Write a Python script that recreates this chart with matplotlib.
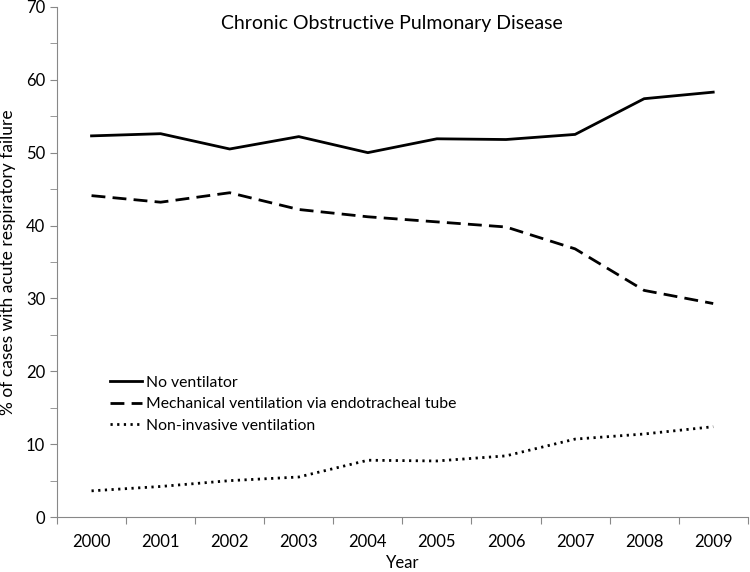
import numpy as np
import matplotlib.pyplot as plt
from matplotlib.ticker import MultipleLocator, FixedLocator, NullFormatter

plt.rcParams['font.family'] = ['Lato', 'DejaVu Sans']

years = ['2000', '2001', '2002', '2003', '2004', '2005', '2006', '2007', '2008', '2009']
no_vent = [52.3, 52.6, 50.5, 52.2, 50.0, 51.9, 51.8, 52.5, 57.4, 58.3]
mech_vent = [44.1, 43.2, 44.5, 42.2, 41.2, 40.5, 39.8, 36.8, 31.1, 29.3]
non_inv = [3.6, 4.2, 5.0, 5.5, 7.8, 7.7, 8.4, 10.7, 11.4, 12.4]

x = np.arange(len(years))

fig = plt.figure(figsize=(7.5, 5.72), dpi=100)
ax = fig.add_axes([0.076, 0.096, 0.921, 0.892])

ax.plot(x, no_vent, color='black', lw=2.0, label='No ventilator')
ax.plot(x, mech_vent, color='black', lw=2.0, dashes=(5, 2.6), label='Mechanical ventilation via endotracheal tube')
ax.plot(x, non_inv, color='black', lw=2.0, dashes=(0.8, 1.6), label='Non-invasive ventilation')

ax.set_xlim(-0.5, len(years) - 0.5)
ax.set_ylim(0, 70)

# category axis: tick marks between categories, labels at centres
ax.xaxis.set_major_locator(FixedLocator(np.arange(len(years) + 1) - 0.5))
ax.xaxis.set_major_formatter(NullFormatter())
ax.xaxis.set_minor_locator(FixedLocator(x))
ax.set_xticklabels(years, minor=True)
ax.tick_params(axis='x', which='major', direction='out', length=5, color='#888888')
ax.tick_params(axis='x', which='minor', length=0, pad=12, labelsize=12)

ax.yaxis.set_major_locator(MultipleLocator(10))
ax.yaxis.set_minor_locator(MultipleLocator(5))
ax.tick_params(axis='y', which='both', direction='out', length=5, color='#888888', labelsize=12)

for s in ['top', 'right']:
    ax.spines[s].set_visible(False)
for s in ['left', 'bottom']:
    ax.spines[s].set_color('#888888')

ax.set_xlabel('Year', fontsize=12, labelpad=4)
ax.set_ylabel('% of cases with acute respiratory failure', fontsize=12.5, labelpad=7)
ax.text(0.485, 0.985, 'Chronic Obstructive Pulmonary Disease', transform=ax.transAxes,
        ha='center', va='top', fontsize=14)

ax.legend(loc='upper left', bbox_to_anchor=(0.077, 0.277), frameon=False, fontsize=11.3,
          handlelength=2.05, handletextpad=0.25, labelspacing=0.48, borderaxespad=0,
          borderpad=0)

fig.savefig('out.png', dpi=100)
